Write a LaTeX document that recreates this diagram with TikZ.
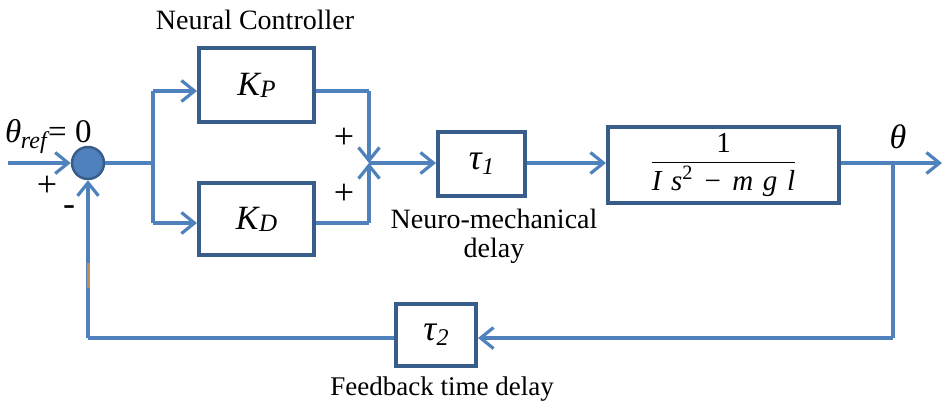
\documentclass[tikz,border=0pt]{standalone}
\usepackage{fontspec}
\usepackage{amsmath}
\setmainfont{Liberation Serif}
\usetikzlibrary{arrows.meta}
\definecolor{linec}{RGB}{79,129,189}
\definecolor{boxc}{RGB}{56,93,138}
\tikzset{
  blk/.style={draw=boxc, line width=4pt, fill=white, inner sep=0pt},
  wire/.style={draw=linec, line width=3.5pt},
  arr/.style={wire, -{Straight Barb[length=13pt,width=21pt,line width=3.2pt]}},
  lbl/.style={font=\fontsize{28}{29}\selectfont, align=center, inner sep=0pt},
  sgn/.style={font=\fontsize{36}{36}\selectfont, inner sep=0pt},
}
\begin{document}
\begin{tikzpicture}[x=1pt,y=-1pt]
\useasboundingbox (0,0) rectangle (944,405);
% blocks
\node[blk, minimum width=115pt, minimum height=74pt] (kp) at (256.5,85) {\fontsize{34}{34}\selectfont\itshape K\kern0.5pt\raisebox{-2pt}{\fontsize{25}{25}\selectfont P}};
\node[blk, minimum width=115pt, minimum height=72pt] (kd) at (256.5,219) {\fontsize{34}{34}\selectfont\itshape K\kern0.5pt\raisebox{-2pt}{\fontsize{25}{25}\selectfont D}};
\node[blk, minimum width=87pt, minimum height=64pt] (t1) at (481.5,164) {\fontsize{36}{36}\selectfont\itshape τ\kern0.5pt\raisebox{-5pt}{\fontsize{24}{24}\selectfont 1}};
\node[blk, minimum width=231pt, minimum height=76pt] (pl) at (723.5,165) {\fontsize{29}{29}\selectfont$\dfrac{\text{1}}{\textit{I\,\,s}^{\text{2}}\ \,\text{−}\ \,\textit{m\,\,g\,\,l}}$};
\node[blk, minimum width=80pt, minimum height=62pt] (t2) at (436,335) {\fontsize{36}{36}\selectfont\itshape τ\kern0.5pt\raisebox{-5pt}{\fontsize{24}{24}\selectfont 2}};
% summing junction
\node[circle, draw=boxc, line width=2.5pt, fill=linec, minimum size=32pt, inner sep=0pt] (sum) at (88,163) {};
% coordinates
\coordinate (in) at (8,163);
\coordinate (split) at (153,163);
\coordinate (splitU) at (153,91);
\coordinate (splitD) at (153,223);
\coordinate (join) at (369,163);
\coordinate (joinU) at (369,91);
\coordinate (joinD) at (369,223);
\coordinate (tap) at (893,163);
\coordinate (out) at (942,163);
\coordinate (tapB) at (893,338);
\coordinate (fbC) at (88,338);
% wires
\draw[arr] (in) -- (sum.west);
\draw[wire] (sum.east) -- (split);
\draw[wire] (splitU) -- (splitD);
\draw[arr] (splitU) -- (kp.west |- splitU);
\draw[arr] (splitD) -- (kd.west |- splitD);
\draw[wire] (kp.east |- joinU) -- (joinU);
\draw[arr] (joinU) -- (join);
\draw[wire] (kd.east |- joinD) -- (joinD);
\draw[arr] (joinD) -- (join);
\draw[arr] (join) -- (t1.west |- join);
\draw[arr] (t1.east |- join) -- (pl.west |- join);
\draw[arr] (pl.east |- tap) -- (out);
\draw[wire] (tap) -- (tapB);
\draw[arr] (tapB) -- (t2.east |- tapB);
\draw[wire] (t2.west |- fbC) -- (fbC);
\draw[arr] (fbC) -- (sum.south);
\draw[draw={rgb,255:red,196;green,140;blue,80}, line width=3pt] (88,263) -- (88,288);
% labels
\node[lbl] (nc) at (255,20) {Neural Controller};
\node[lbl] (nm) at (494,236) {Neuro-mechanical\\delay};
\node[lbl, font=\fontsize{27}{29}\selectfont] (fb) at (442,389) {Feedback time delay};
\node[inner sep=0pt, anchor=base west] (thr) at (5,142) {\fontsize{33}{33}\selectfont\itshape θ\kern-0.5pt\raisebox{-6pt}{\fontsize{24}{24}\selectfont ref}\kern1.5pt\upshape = 0};
\node[inner sep=0pt] (th) at (898,137) {\fontsize{34}{34}\selectfont\itshape θ};
\node[sgn] (p1) at (47,186) {+};
\node[sgn] (m1) at (69,211) {-};
\node[sgn] (p2) at (344,138) {+};
\node[sgn] (p3) at (344,194) {+};
\end{tikzpicture}
\end{document}
